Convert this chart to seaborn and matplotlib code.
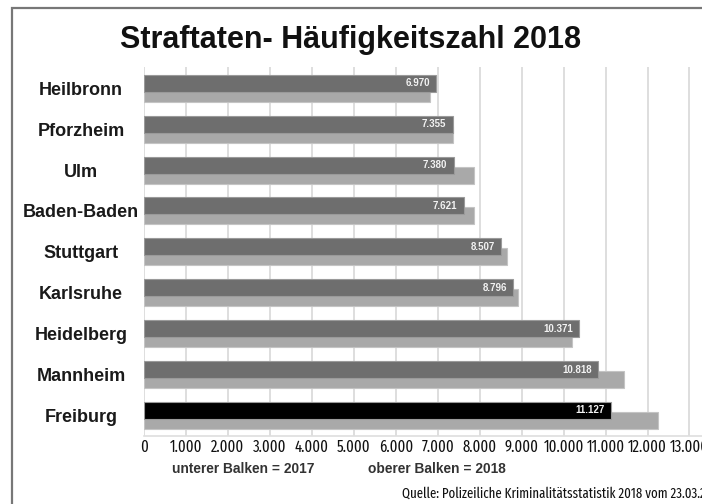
import numpy as np
import pandas as pd
import matplotlib.pyplot as plt
from matplotlib.patches import Rectangle
import seaborn as sns

# data
cities = ['Heilbronn', 'Pforzheim', 'Ulm', 'Baden-Baden', 'Stuttgart',
          'Karlsruhe', 'Heidelberg', 'Mannheim', 'Freiburg']
hz_2018 = [6970, 7355, 7380, 7621, 8507, 8796, 10371, 10818, 11127]
hz_2017 = [6810, 7360, 7860, 7870, 8640, 8910, 10210, 11450, 12240]
value_labels = ['6.970', '7.355', '7.380', '7.621', '8.507',
                '8.796', '10.371', '10.818', '11.127']
x_ticks = list(range(0, 14000, 1000))
x_tick_labels = ['0', '1.000', '2.000', '3.000', '4.000', '5.000', '6.000',
                 '7.000', '8.000', '9.000', '10.000', '11.000', '12.000', '13.000']

df = pd.DataFrame({'Stadt': cities, '2018': hz_2018, '2017': hz_2017})

sns.set_style('white')
plt.rcParams['font.family'] = ['Liberation Sans', 'DejaVu Sans']
cond = ['Fira Sans Extra Condensed', 'DejaVu Sans']

fig = plt.figure(figsize=(7.02, 5.04), dpi=100)
ax = fig.add_axes([144 / 702, 1 - 435.5 / 504, 1 - 144 / 702, (435.5 - 67) / 504])

bar_h = 0.416
shift = 0.122

# lower bar = 2017 (light), upper bar = 2018 (dark, drawn on top)
pal_2017 = {c: '#a9a9a9' for c in cities}
pal_2018 = {c: '#6e6e6e' for c in cities}
pal_2018['Freiburg'] = '#000000'

sns.barplot(data=df, x='2017', y='Stadt', hue='Stadt', palette=pal_2017,
            order=cities, width=bar_h, legend=False, ax=ax,
            edgecolor='#c4c4c4', linewidth=0.8, zorder=2)
n_light = len(ax.patches)
for p in ax.patches:
    p.set_y(p.get_y() + shift)

sns.barplot(data=df, x='2018', y='Stadt', hue='Stadt', palette=pal_2018,
            order=cities, width=bar_h, legend=False, ax=ax,
            edgecolor='#9a9a9a', linewidth=0.8, zorder=3)
for p in ax.patches[n_light:]:
    p.set_y(p.get_y() - shift)

# value labels inside the 2018 bars
for i, (v, lab) in enumerate(zip(hz_2018, value_labels)):
    ax.annotate(lab, (v, i - shift), xytext=(-4.5, 0), textcoords='offset points',
                ha='right', va='center', color='#f2f2f2', fontsize=7,
                fontweight='bold', zorder=4)

ax.set_xlim(0, 13298)
ax.set_ylim(8.49, -0.52)
ax.set_xticks(x_ticks)
ax.set_xticklabels(x_tick_labels, family=cond, fontsize=11.5, color='#111111')
ax.set_yticks(range(len(cities)))
ax.set_yticklabels(cities, fontsize=13, fontweight='bold', color='#1a1a1a')
for t in ax.get_yticklabels():
    t.set_ha('center')
ax.tick_params(axis='y', length=0, pad=45.4)
ax.tick_params(axis='x', length=0, pad=2.8)
ax.set_xlabel('')
ax.set_ylabel('')

ax.grid(axis='x', color='#dedede', linewidth=1.4, zorder=0)
ax.set_axisbelow(True)
for s in ['top', 'right', 'left']:
    ax.spines[s].set_visible(False)
ax.spines['bottom'].set_color('#dedede')
ax.spines['bottom'].set_linewidth(1.2)

fig.text(0.5, 1 - 48.3 / 504, 'Straftaten- Häufigkeitszahl 2018', ha='center',
         va='baseline', fontsize=22, fontweight='bold', color='#111111')
fig.text(172 / 702, 1 - 472.7 / 504, 'unterer Balken = 2017', ha='left',
         va='baseline', fontsize=9.9, fontweight='bold', color='#333333')
fig.text(368 / 702, 1 - 472.7 / 504, 'oberer Balken = 2018', ha='left',
         va='baseline', fontsize=9.9, fontweight='bold', color='#333333')
fig.text(402 / 702, 1 - 497.3 / 504,
         'Quelle: Polizeiliche Kriminalitätsstatistik 2018 vom 23.03.2019',
         ha='left', va='baseline', fontsize=10, family=cond, color='#111111')

# grey frame around the graphic (cut off at right and bottom)
fig.patches.append(Rectangle((11.5 / 702, -0.1), 1.2, 1.1 - 7.7 / 504,
                             transform=fig.transFigure, fill=False,
                             edgecolor='#777777', linewidth=1.6))

fig.savefig('out.png', dpi=100)
